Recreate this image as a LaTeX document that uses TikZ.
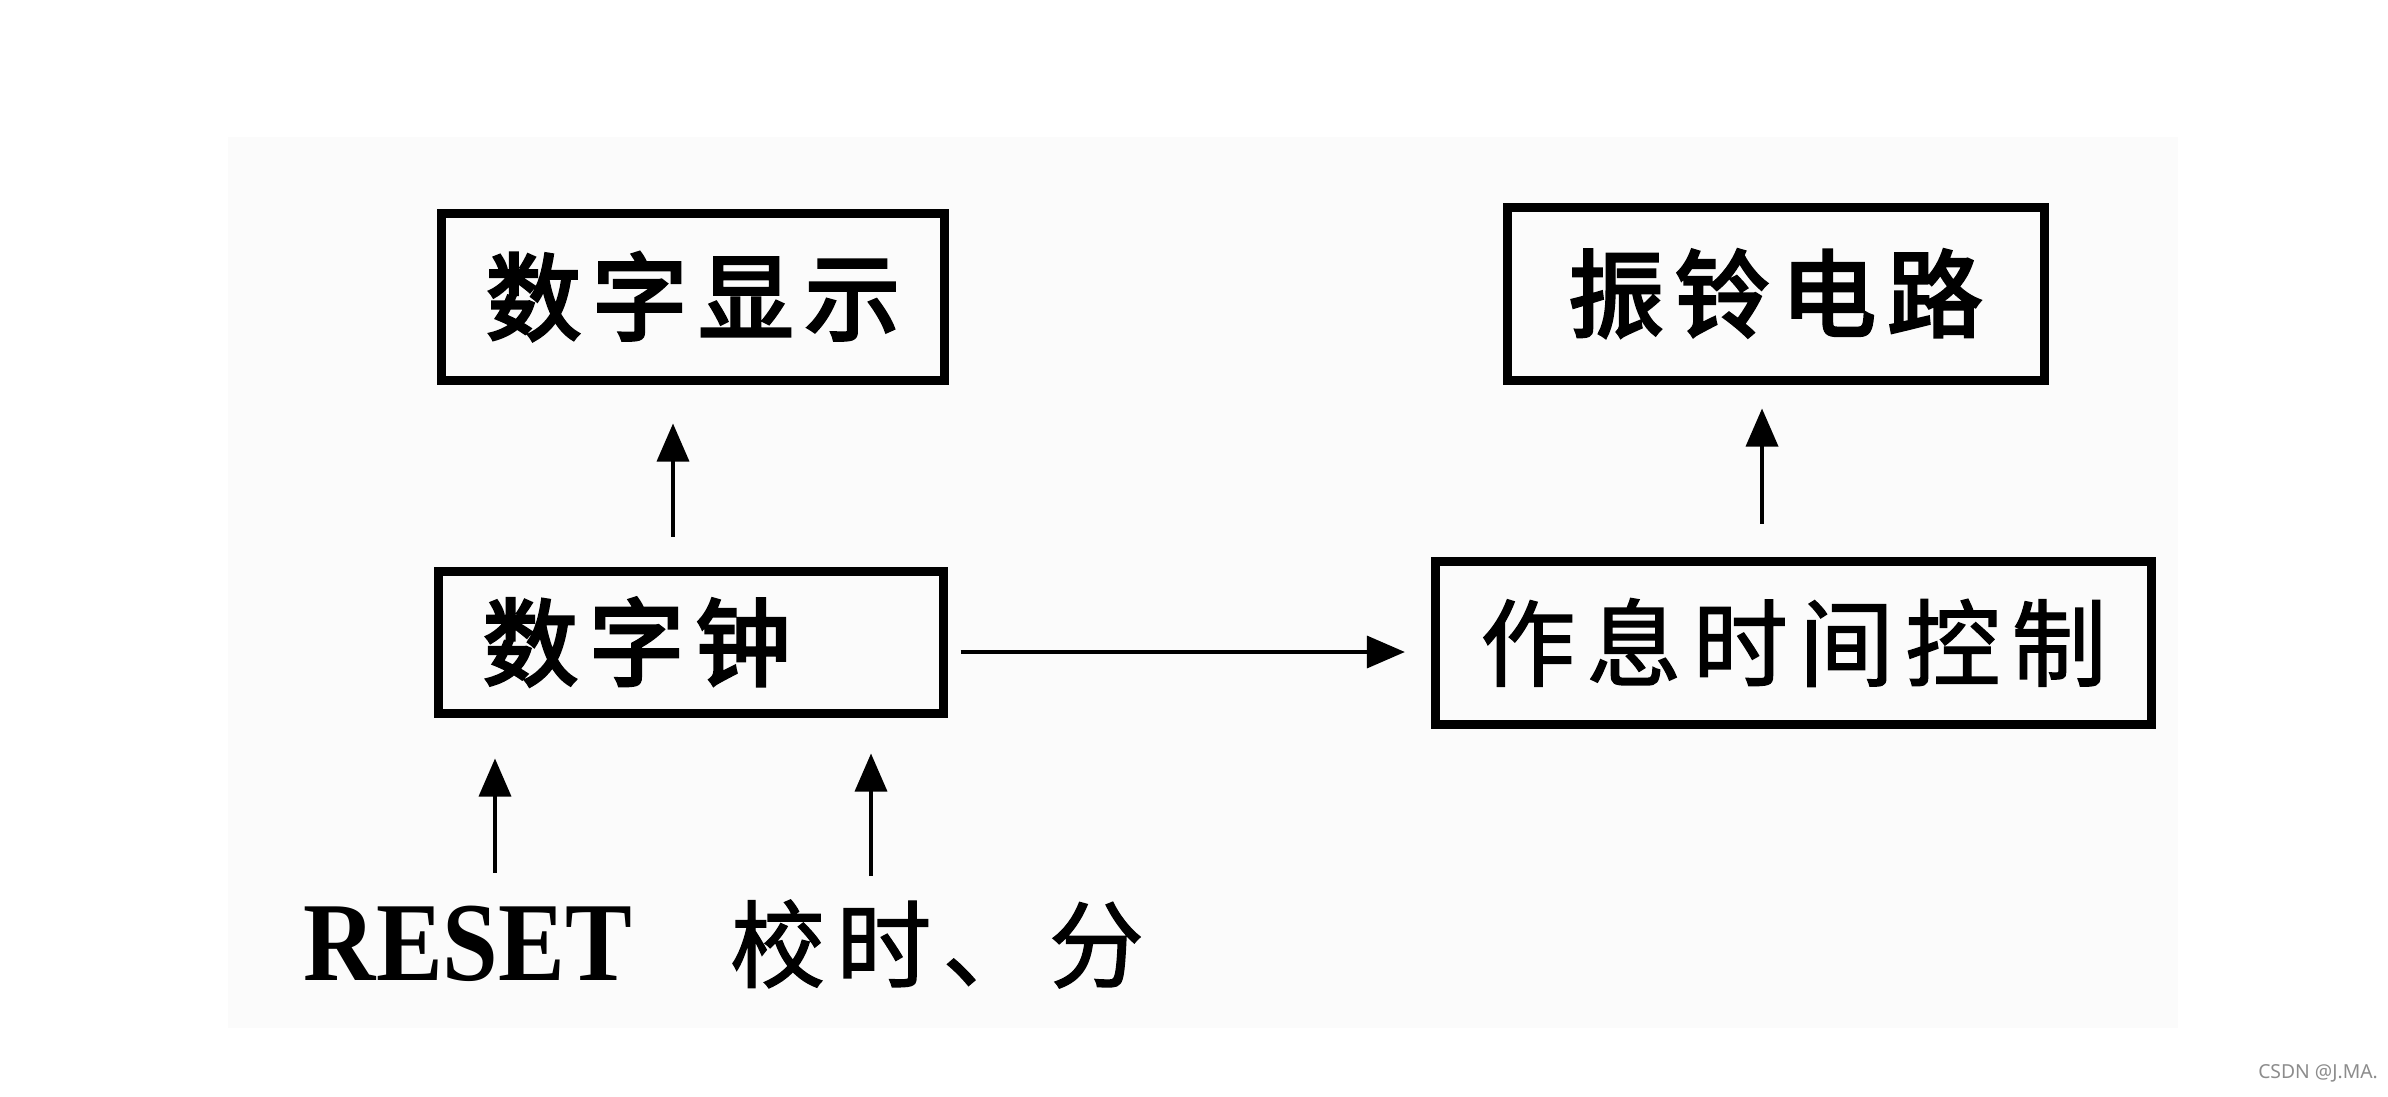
\documentclass[tikz,border=0pt]{standalone}
\usepackage{fontspec}
\usepackage{tikz}
\usetikzlibrary{arrows.meta, positioning}
\setmainfont{Liberation Serif}
\newfontfamily\cjk[LetterSpace=12]{Noto Sans CJK SC}
\newfontfamily\cjkheavy[LetterSpace=12, FakeBold=3.5]{Noto Sans CJK SC}
\newfontfamily\cjkmid[LetterSpace=12, FakeBold=1.5]{Noto Sans CJK SC}
\newfontfamily\resetfont[FakeStretch=0.89]{Liberation Serif}
\newfontfamily\marksans{Noto Sans}
\tikzstyle{block} = [rectangle, draw=black, line width=0.09cm, inner xsep=0.45cm, inner ysep=0pt, text centered, font=\cjkheavy\fontsize{27}{32}\selectfont]
\tikzstyle{inputtext} = [inner sep=0pt]
\tikzstyle{arrow} = [line width=0.035cm, -{Triangle[length=0.38cm, width=0.32cm]}]

\begin{document}
\begin{tikzpicture}
\useasboundingbox (0,0) rectangle (23.88,10.96);
\fill [black!1.5] (2.28,0.68) rectangle (21.78,9.59);
\node (disp) [block, minimum width=5cm, minimum height=1.67cm] at (6.93,7.995) {数字显示};
\node (clock) [block, minimum width=5.05cm, minimum height=1.42cm, text width=4.15cm, align=left] at (6.905,4.54) {数字钟};
\node (bell) [block, minimum width=5.37cm, minimum height=1.73cm] at (17.755,8.025) {振铃电路};
\node (sched) [block, minimum width=6.97cm, minimum height=1.63cm, font=\cjkmid\fontsize{27}{32}\selectfont] at (17.935,4.535) {作息时间控制};
\node (reset) [inputtext, font=\resetfont\bfseries\fontsize{32}{36}\selectfont] at (4.68,1.52) {RESET};
\node (adjust) [inputtext, font=\cjkmid\fontsize{27}{32}\selectfont] at (9.37,1.52) {校时、分};
\node (mark) [font=\marksans\fontsize{5.5}{6}\selectfont, text=black!45] at (23.18,0.23) {CSDN @J.MA.};
% start points of the connectors
\coordinate (c1) at ([xshift=-1.75mm]clock.north);
\coordinate (c2) at ([xshift=-3.15mm]sched.north);
\coordinate (c3) at ([yshift=-1mm]clock.east);
\coordinate (c4) at ([xshift=2.7mm]reset.north);
\coordinate (c5) at ([xshift=-6.6mm]adjust.north);
\draw [arrow, shorten <=3mm, shorten >=3.9mm] (c1) -- (c1 |- disp.south);
\draw [arrow, shorten <=3.3mm, shorten >=2.4mm] (c2) -- (c2 |- bell.south);
\draw [arrow, shorten <=1.3mm, shorten >=2.6mm] (c3) -- (c3 -| sched.west);
\draw [arrow, shorten <=3.3mm, shorten >=4.1mm] (c4) -- (c4 |- clock.south);
\draw [arrow, shorten <=2.3mm, shorten >=3.6mm] (c5) -- (c5 |- clock.south);
\end{tikzpicture}
\end{document}
